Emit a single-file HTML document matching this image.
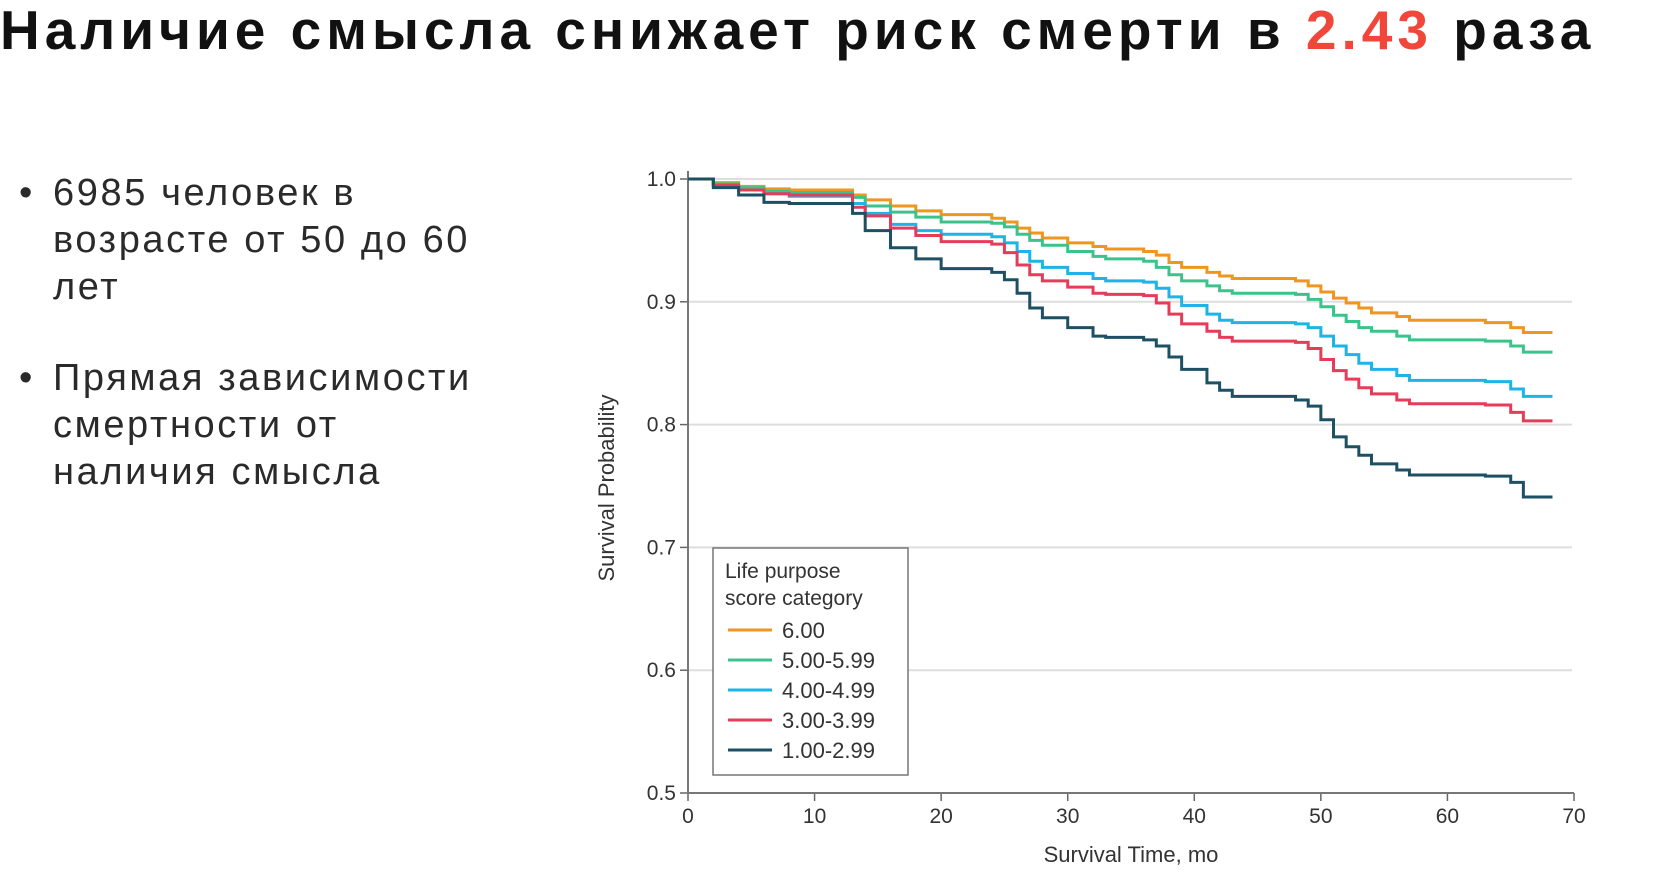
<!DOCTYPE html>
<html><head><meta charset="utf-8"><style>
body{margin:0;width:1659px;height:883px;background:#fff;overflow:hidden;position:relative;font-family:"Liberation Sans",sans-serif}
.t{position:absolute;left:0;top:-2px;font-size:55px;font-weight:bold;color:#111;white-space:nowrap;letter-spacing:5px}
.t span{color:#f0473a}
.b{position:absolute;left:19px;font-size:38px;color:#2a2a2a;line-height:47px}
.b .d{position:absolute;left:0}
.b .x{position:absolute;left:34px;white-space:nowrap;letter-spacing:2.6px}
</style></head><body>
<div class="t">Наличие смысла снижает риск смерти в <span>2.43</span> раза</div>
<div class="b" style="top:170px"><span class="d">•</span><span class="x">6985 человек в<br>возрасте от 50 до 60<br>лет</span></div>
<div class="b" style="top:355px"><span class="d">•</span><span class="x">Прямая зависимости<br>смертности от<br>наличия смысла</span></div>
<svg id="chart" width="1659" height="883" style="position:absolute;left:0;top:0"></svg>
<script>
const categories=["6.00","5.00-5.99","4.00-4.99","3.00-3.99","1.00-2.99"];
const colors=["#f0961e","#3cc38c","#1eb4e6","#e63c5a","#1e5064"];
const times=[0,2,4,6,8,12,13,14,16,18,20,24,25,26,27,28,30,32,33,36,37,38,39,41,42,43,48,49,50,51,52,53,54,56,57,63,65,66];
const sOrange=[1,.997,.994,.992,.991,.991,.987,.983,.978,.974,.971,.968,.965,.96,.956,.952,.948,.945,.943,.941,.938,.932,.928,.924,.921,.919,.917,.913,.908,.903,.899,.895,.891,.888,.885,.883,.879,.875];
const sGreen=[1,.996,.993,.99,.989,.989,.985,.978,.973,.969,.965,.964,.961,.955,.95,.946,.941,.937,.935,.933,.928,.922,.917,.913,.909,.907,.906,.902,.896,.889,.884,.879,.876,.872,.869,.868,.864,.859];
const sBlue=[1,.995,.991,.988,.986,.986,.98,.972,.963,.958,.955,.953,.948,.941,.933,.928,.923,.919,.917,.916,.911,.904,.897,.89,.885,.883,.882,.879,.872,.864,.857,.85,.845,.84,.836,.835,.829,.823];
const sRed=[1,.995,.991,.988,.987,.987,.977,.97,.96,.954,.949,.947,.94,.93,.922,.917,.912,.907,.906,.905,.899,.89,.882,.876,.871,.868,.867,.862,.853,.844,.837,.83,.825,.82,.817,.816,.81,.803];
const sDark=[1,.993,.987,.981,.98,.98,.972,.958,.944,.935,.927,.924,.918,.907,.895,.887,.879,.872,.871,.869,.864,.855,.845,.834,.828,.823,.82,.815,.804,.79,.782,.775,.768,.763,.759,.758,.753,.741];
const series=[sOrange,sGreen,sBlue,sRed,sDark];
const endTime=68.3;
const xTicks=[0,10,20,30,40,50,60,70];
const yTicks=[0.5,0.6,0.7,0.8,0.9,1.0];
const X0=688,X1=1574,Y0=793,Y1=179;
const xs=v=>X0+(v/70)*(X1-X0);
const ys=v=>Y0-(v-0.5)/0.5*(Y0-Y1);
const svg=document.getElementById('chart');
const NS="http://www.w3.org/2000/svg";
function mk(tag,at){const e=document.createElementNS(NS,tag);for(const k in at)e.setAttribute(k,at[k]);svg.appendChild(e);return e;}
yTicks.forEach(v=>{
 if(v>0.5){const g=mk('line',{x1:X0,x2:1572,y1:ys(v),y2:ys(v),stroke:'#dedede','stroke-width':2});
 
 }
 const tk=mk('line',{x1:X0-8,x2:X0,y1:ys(v),y2:ys(v),stroke:'#666','stroke-width':1.5});
 
 
 const t=mk('text',{x:X0-12,y:ys(v)+7,'text-anchor':'end','font-size':21,fill:'#333','font-family':'Liberation Sans Narrow, Liberation Sans, sans-serif'});
 t.textContent=v.toFixed(1);
 
 
});
xTicks.forEach(v=>{
 const tk=mk('line',{x1:xs(v),x2:xs(v),y1:Y0,y2:Y0+8,stroke:'#666','stroke-width':1.5});
 
 
 const t=mk('text',{x:xs(v),y:Y0+30,'text-anchor':'middle','font-size':21,fill:'#333','font-family':'Liberation Sans Narrow, Liberation Sans, sans-serif'});
 t.textContent=v;
 
 
});
const ax=mk('path',{d:`M${X0},${Y1-8}V${Y0}H${X1}`,fill:'none',stroke:'#777','stroke-width':2});


series.forEach((s,i)=>{
 let d=`M${xs(times[0])},${ys(s[0])}`;
 for(let j=1;j<times.length;j++){d+=`H${xs(times[j])}V${ys(s[j])}`;}
 d+=`H${xs(endTime)}`;
 const p=mk('path',{d:d,fill:'none',stroke:colors[i],'stroke-width':3});
 
 
});
const yl=mk('text',{x:0,y:0,transform:'translate(614,488) rotate(-90)','text-anchor':'middle','font-size':22,fill:'#333','font-family':'Liberation Sans Narrow, Liberation Sans, sans-serif'});
yl.textContent='Survival Probability';


const xl=mk('text',{x:1131,y:862,'text-anchor':'middle','font-size':22,fill:'#333','font-family':'Liberation Sans Narrow, Liberation Sans, sans-serif'});
xl.textContent='Survival Time, mo';


const lb=mk('rect',{x:713,y:548,width:195,height:227,fill:'#fff',stroke:'#777','stroke-width':1.5});


['Life purpose','score category'].forEach((s,i)=>{
 const t=mk('text',{x:725,y:578+i*27,'font-size':21,fill:'#333','font-family':'Liberation Sans Narrow, Liberation Sans, sans-serif'});
 t.textContent=s;
 
 
});
categories.forEach((c,i)=>{
 const y=630+i*30;
 const l=mk('line',{x1:728,x2:772,y1:y,y2:y,stroke:colors[i],'stroke-width':3});
 
 
 const t=mk('text',{x:782,y:y+8,'font-size':22,fill:'#333','font-family':'Liberation Sans Narrow, Liberation Sans, sans-serif'});
 t.textContent=c;
 
 
});
</script>
</body></html>
